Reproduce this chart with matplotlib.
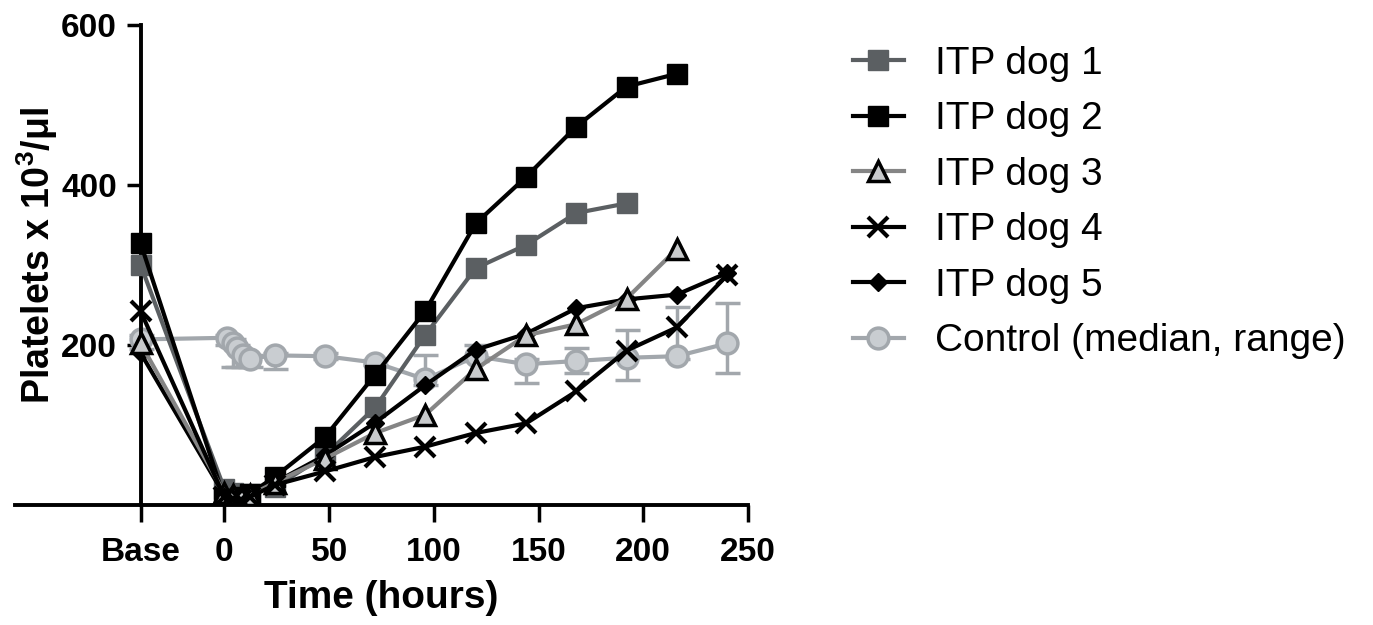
import matplotlib
matplotlib.use('Agg')
import matplotlib.pyplot as plt

plt.rcParams['font.family'] = ['Liberation Sans', 'DejaVu Sans']
plt.rcParams['mathtext.fontset'] = 'custom'
plt.rcParams['mathtext.bf'] = 'Liberation Sans:bold'
plt.rcParams['mathtext.rm'] = 'Liberation Sans:bold'
plt.rcParams['mathtext.default'] = 'bf'

# "Base" sample is drawn at x = -40 on the time axis
BASE = -40

# ITP dogs: time (h) and platelet counts (x10^3/ul)
t_dog = [BASE, 0, 4, 8, 12, 24, 48, 72, 96, 120, 144, 168, 192, 216, 240]
dog1 = [300, 20, 15, 12, 14, 22, 62, 122, 213, 296, 325, 365, 377]
dog2 = [327, 8, 5, 10, 14, 35, 85, 163, 243, 352, 410, 473, 523, 539]
dog3 = [202, 15, 12, 10, 12, 28, 58, 90, 113, 170, 212, 226, 258, 320]
dog4 = [242, 10, 8, 6, 10, 25, 42, 60, 73, 90, 102, 142, 193, 222, 287]
dog5 = [190, 12, 10, 8, 12, 28, 62, 103, 150, 194, 214, 246, 257, 263, 290]

# control dogs: median with range
t_ctrl = [BASE, 1, 4, 6, 9, 12, 24, 48, 72, 96, 120, 144, 168, 192, 216, 240]
ctrl_med = [207, 209, 203, 196, 188, 183, 187, 186, 178, 157, 186, 176, 180, 184, 186, 202]
ctrl_lo = [195, 200, 172, 172, 172, 172, 170, 182, 175, 150, 180, 152, 165, 156, 183, 165]
ctrl_hi = [212, 212, 207, 200, 192, 187, 190, 190, 181, 187, 200, 182, 196, 219, 248, 252]

xticks = [BASE, 0, 50, 100, 150, 200, 250]
xticklabels = ['Base', '0', '50', '100', '150', '200', '250']
yticks = [200, 400, 600]

fig = plt.figure(figsize=(13.73, 6.25), dpi=100)
ax = fig.add_axes([15 / 1373, 1 - 505 / 625, 733 / 1373, 480 / 625])

c_ctrl_line = '#a2a7ac'
c_ctrl_face = '#c9cdd1'
c_dog1 = '#5b5f62'
c_dog3 = '#858585'

lo_err = [m - l for m, l in zip(ctrl_med, ctrl_lo)]
hi_err = [h - m for m, h in zip(ctrl_med, ctrl_hi)]
ax.errorbar(t_ctrl, ctrl_med, yerr=[lo_err, hi_err], fmt='none',
            ecolor=c_ctrl_line, elinewidth=2.5, capsize=9, capthick=2.5, zorder=1)
h_ctrl, = ax.plot(t_ctrl, ctrl_med, '-o', color=c_ctrl_line, lw=3, ms=15,
                  mfc=c_ctrl_face, mec=c_ctrl_line, mew=2.5, zorder=2,
                  label='Control (median, range)')

h1, = ax.plot(t_dog[:len(dog1)], dog1, '-s', color=c_dog1, lw=3, ms=14,
              mfc=c_dog1, mec=c_dog1, zorder=3, label='ITP dog 1')
h2, = ax.plot(t_dog[:len(dog2)], dog2, '-s', color='black', lw=3, ms=14,
              zorder=4, label='ITP dog 2')
h5, = ax.plot(t_dog[:len(dog5)], dog5, '-D', color='black', lw=3, ms=9,
              zorder=5, label='ITP dog 5')
h3, = ax.plot(t_dog[:len(dog3)], dog3, '-^', color=c_dog3, lw=3, ms=14,
              mfc='#c8cacc', mec='black', mew=2.5, zorder=6, label='ITP dog 3')
h4, = ax.plot(t_dog[:len(dog4)], dog4, '-x', color='black', lw=3, ms=15,
              mew=3, zorder=7, label='ITP dog 4')

ax.set_xlim(-100, 250)
ax.set_ylim(0, 600)
ax.spines['left'].set_position(('data', BASE))
ax.spines['top'].set_visible(False)
ax.spines['right'].set_visible(False)
for s in ['left', 'bottom']:
    ax.spines[s].set_linewidth(2.8)
ax.set_xticks(xticks)
ax.set_xticklabels(xticklabels)
ax.set_yticks(yticks)
ax.tick_params(axis='x', length=12, width=2.5, pad=11, labelsize=24)
ax.tick_params(axis='y', length=10, width=2.5, pad=7, labelsize=24)
for lab in ax.get_xticklabels() + ax.get_yticklabels():
    lab.set_fontweight('bold')

ax.set_xlabel('Time (hours)', fontsize=28, fontweight='bold', labelpad=9)
ax.set_ylabel(r'Platelets x 10$^3$/μl', fontsize=27, fontweight='bold')
ax.yaxis.set_label_coords(0.062, 0.52)

fig.legend(handles=[h1, h2, h3, h4, h5, h_ctrl], loc='upper left',
           bbox_to_anchor=(853 / 1373, 1 - 46 / 625), frameon=False,
           fontsize=28, handlelength=1.3, handletextpad=0.8,
           labelspacing=0.5, borderpad=0, borderaxespad=0, markerscale=1.0)

fig.savefig('out.png', dpi=100)
